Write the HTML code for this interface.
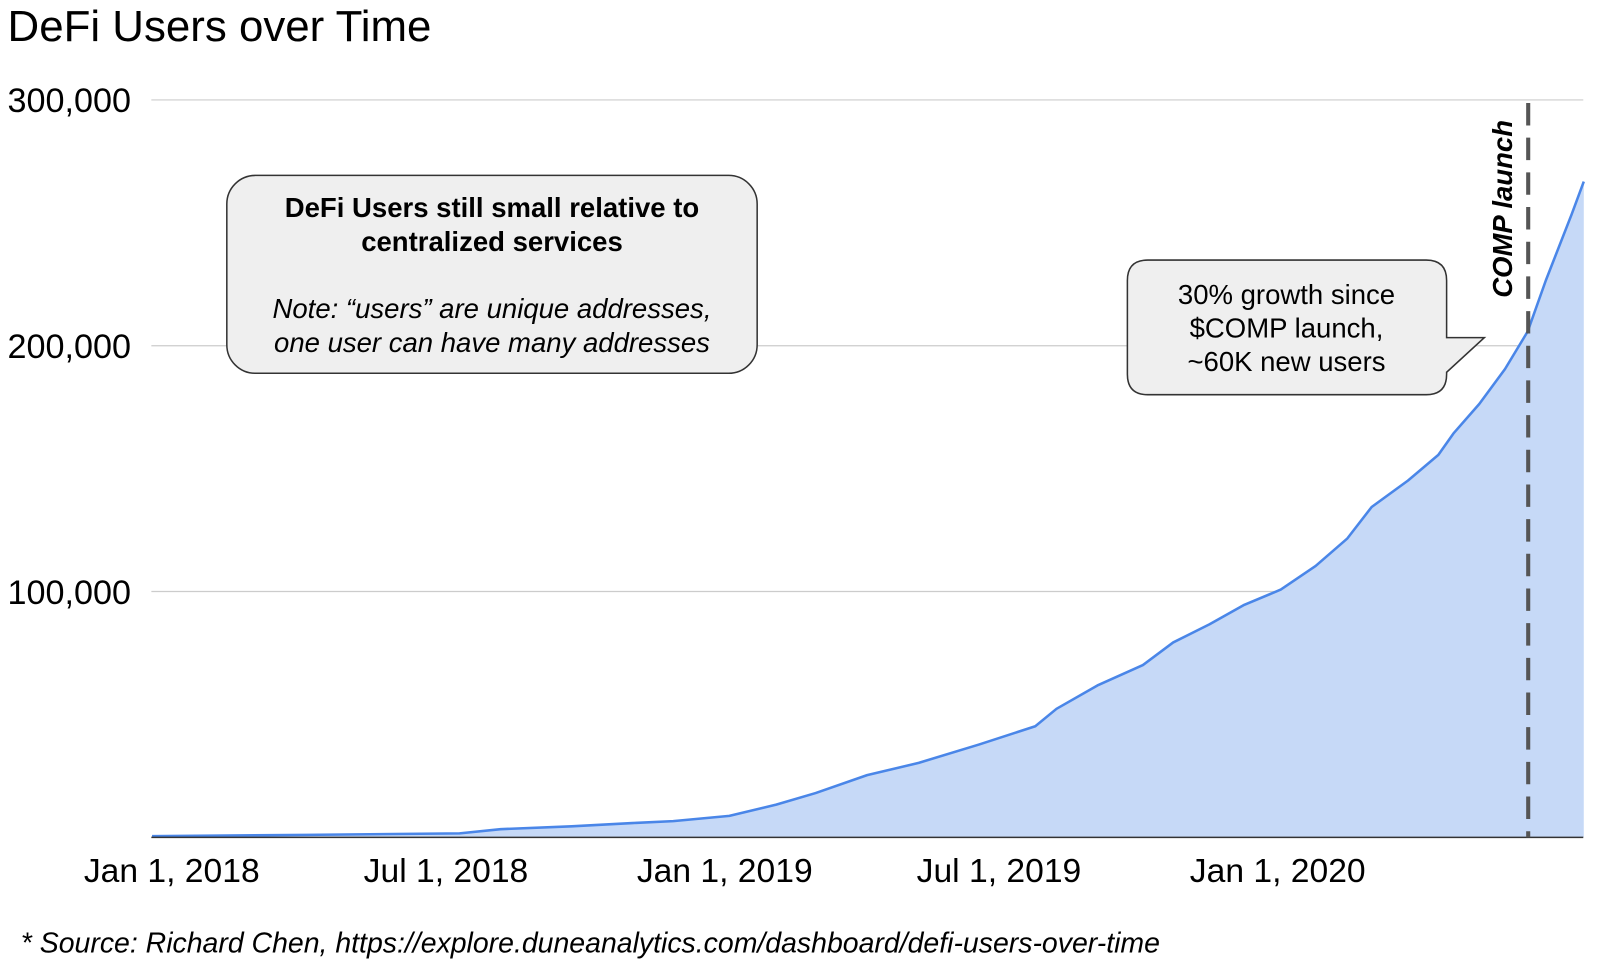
<!DOCTYPE html>
<html><head><meta charset="utf-8"><style>
html,body{margin:0;padding:0;background:#fff;}
svg{display:block;font-family:"Liberation Sans",Arial,sans-serif;}
</style></head><body>
<svg id="chart" width="1600" height="974" viewBox="0 0 1568 955" xmlns="http://www.w3.org/2000/svg">
<text x="7" y="40" font-size="43" fill="#000">DeFi Users over Time</text>
<g id="grid"></g>
<g id="series"></g>
<g id="axes"></g>
<line x1="1498" y1="101" x2="1498" y2="821" stroke="#555" stroke-width="4" stroke-dasharray="22,12"/>
<text transform="translate(1482,292) rotate(-90)" font-size="27" font-weight="bold" font-style="italic" fill="#000">COMP launch</text>
<g>
<rect x="222" y="172" width="520" height="194" rx="28" fill="#efefef" stroke="#333" stroke-width="1.5"/>
<text x="482" y="213" font-size="27" font-weight="bold" text-anchor="middle">DeFi Users still small relative to</text>
<text x="482" y="246" font-size="27" font-weight="bold" text-anchor="middle">centralized services</text>
<text x="482" y="312" font-size="27" font-style="italic" text-anchor="middle">Note: “users” are unique addresses,</text>
<text x="482" y="345" font-size="27" font-style="italic" text-anchor="middle">one user can have many addresses</text>
</g>
<g>
<path d="M1125,255 H1398 Q1418,255 1418,275 V331 H1455 L1418,365 V367 Q1418,387 1398,387 H1125 Q1105,387 1105,367 V275 Q1105,255 1125,255 Z" fill="#efefef" stroke="#333" stroke-width="1.5"/>
<text x="1261" y="298" font-size="27" text-anchor="middle">30% growth since</text>
<text x="1261" y="331" font-size="27" text-anchor="middle">$COMP launch,</text>
<text x="1261" y="364" font-size="27" text-anchor="middle">~60K new users</text>
</g>
<text x="20" y="934" font-size="27.9" font-style="italic" fill="#000">* Source: Richard Chen, https://explore.duneanalytics.com/dashboard/defi-users-over-time</text>
</svg>
<script>
const days = [-13,89,190,217,264,304,331,368,399,425,459,493,533,570,584,611,641,661,685,708,732,755,776,792,816,836,846,863,880,895,907,924,932];
const users = [500,1000,1600,3300,4500,5800,6600,8700,13300,18000,25300,30300,37800,45200,52300,61800,70100,79300,86700,94600,100800,110400,121600,134400,145200,155600,164300,176300,190500,205800,226600,253500,266800];
const yTicks = [100000,200000,300000];
const yTickLabels = ["100,000","200,000","300,000"];
const xTickDays = [0,181,365,546,730];
const xTickLabels = ["Jan 1, 2018","Jul 1, 2018","Jan 1, 2019","Jul 1, 2019","Jan 1, 2020"];
const NS="http://www.w3.org/2000/svg";
const X0=168, PXD=1.4855, Y0=821, PYU=241/100000, LEFT=148, RIGHT=1552;
function xs(d){return X0+d*PXD;}
function ys(v){return Y0-v*PYU;}
function mk(tag,attrs,parent){const e=document.createElementNS(NS,tag);for(const k in attrs)e.setAttribute(k,attrs[k]);parent.appendChild(e);return e;}
const gridG=document.getElementById('grid'), seriesG=document.getElementById('series'), axesG=document.getElementById('axes');
yTicks.forEach((v,i)=>{
  const l=mk('line',{x1:LEFT,x2:RIGHT,y1:ys(v),y2:ys(v),stroke:'#ccc','stroke-width':1.2},gridG);
  
  
  const t=mk('text',{x:7,y:ys(v)+12,'font-size':33.5,fill:'#000'},axesG);
  t.textContent=yTickLabels[i];
  
  
});
xTickDays.forEach((d,i)=>{
  const t=mk('text',{x:xs(d),y:865,'font-size':33,'text-anchor':'middle',fill:'#000'},axesG);
  t.textContent=xTickLabels[i];
  
  
});
const pts=days.map((d,i)=>xs(d).toFixed(1)+','+ys(users[i]).toFixed(1));
const area=mk('path',{d:'M'+xs(days[0])+','+Y0+' L'+pts.join(' L')+' L'+xs(days[days.length-1])+','+Y0+' Z',fill:'#c6d9f7'},seriesG);


const line=mk('path',{d:'M'+pts.join(' L'),fill:'none',stroke:'#4a86e8','stroke-width':2.5,'stroke-linejoin':'round'},seriesG);


const ax=mk('line',{x1:LEFT,x2:RIGHT,y1:Y0,y2:Y0,stroke:'#333','stroke-width':1.5},axesG);


</script>
</body></html>
